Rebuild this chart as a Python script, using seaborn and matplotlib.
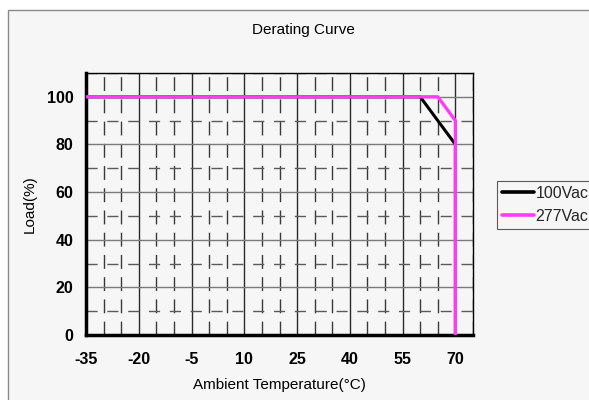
import matplotlib
matplotlib.use('Agg')
import matplotlib.pyplot as plt
from matplotlib.patches import Rectangle
from matplotlib.ticker import MultipleLocator
import seaborn as sns
import pandas as pd

sns.set_style('white')
plt.rcParams['font.family'] = ['Liberation Sans', 'DejaVu Sans']
plt.rcParams['axes.unicode_minus'] = False

# derating points (ambient temp degC, load %)
TEMP_100VAC = [-35, 60, 70, 70]
LOAD_100VAC = [100, 100, 80, 0]
TEMP_277VAC = [-35, 65, 70, 70]
LOAD_277VAC = [100, 100, 90, 0]

SERIES = [('100Vac', TEMP_100VAC, LOAD_100VAC, '#000000', 2.2),
          ('277Vac', TEMP_277VAC, LOAD_277VAC, '#ff3cf5', 2.4)]

X_TICKS = [-35, -20, -5, 10, 25, 40, 55, 70]
Y_TICKS = [0, 20, 40, 60, 80, 100]

BG = '#f6f6f6'

fig = plt.figure(figsize=(5.89, 4.0), dpi=100)
fig.patch.set_facecolor('white')
# grey frame around the chart area
frame = Rectangle((8 / 589, -0.05), 1.0, 1 - 10 / 400 + 0.05,
                  transform=fig.transFigure, facecolor=BG,
                  edgecolor='#8a8a8a', linewidth=1.0, zorder=-10)
fig.patches.append(frame)

ax = fig.add_axes([86 / 589, 1 - 335 / 400, 387 / 589, 262 / 400])
ax.set_zorder(2)
ax.set_facecolor(BG)

for name, xs, ys, color, lw in SERIES:
    df = pd.DataFrame({'temp': xs, 'load': ys})
    sns.lineplot(data=df, x='temp', y='load', sort=False, estimator=None,
                 color=color, linewidth=lw, label=name, ax=ax, zorder=5)

ax.set_xlim(-35, 75)
ax.set_ylim(0, 110)
ax.set_xticks(X_TICKS)
ax.set_yticks(Y_TICKS)
ax.xaxis.set_minor_locator(MultipleLocator(5))
ax.yaxis.set_minor_locator(MultipleLocator(10))

ax.grid(which='major', axis='x', color='#2a2a2a', linewidth=1.0, linestyle='-')
ax.grid(which='minor', axis='x', color='#3a3a3a', linewidth=1.0, linestyle=(0, (10, 6)))
ax.grid(which='major', axis='y', color='#7a7a7a', linewidth=1.0, linestyle='-')
ax.grid(which='minor', axis='y', color='#5a5a5a', linewidth=1.0, linestyle=(0, (8, 7)))
ax.set_axisbelow(True)

ax.tick_params(which='major', direction='in', length=5, width=2, color='black',
               labelsize=11.5, labelcolor='black', top=False, right=False)
ax.tick_params(which='minor', length=0)
ax.tick_params(axis='x', pad=12)
ax.tick_params(axis='y', pad=9)
for lab in ax.get_xticklabels() + ax.get_yticklabels():
    lab.set_fontweight('bold')

for side in ['left', 'bottom']:
    ax.spines[side].set_linewidth(2.5)
    ax.spines[side].set_color('black')
for side in ['top', 'right']:
    ax.spines[side].set_linewidth(1.0)
    ax.spines[side].set_color('black')

ax.set_xlabel('Ambient Temperature(°C)', fontsize=11, labelpad=8, color='black')
ax.set_ylabel('Load(%)', fontsize=11, labelpad=7, color='black')
fig.text(303 / 589, 1 - 30 / 400, 'Derating Curve', fontsize=11,
         ha='center', va='center', color='black')

handles, labels = ax.get_legend_handles_labels()
ax.get_legend().remove()
leg = fig.legend(handles, labels, loc='upper left',
                 bbox_to_anchor=(497 / 589, 1 - 181 / 400),
                 frameon=True, fancybox=False, fontsize=11.5,
                 handlelength=2.0, handletextpad=0.1, borderpad=0.3,
                 labelspacing=0.5, borderaxespad=0)
leg.get_frame().set_edgecolor('#333333')
leg.get_frame().set_linewidth(0.8)
leg.get_frame().set_facecolor(BG)
for line in leg.get_lines():
    line.set_linewidth(2.6)

fig.savefig('out.png', dpi=100, facecolor=fig.get_facecolor())
